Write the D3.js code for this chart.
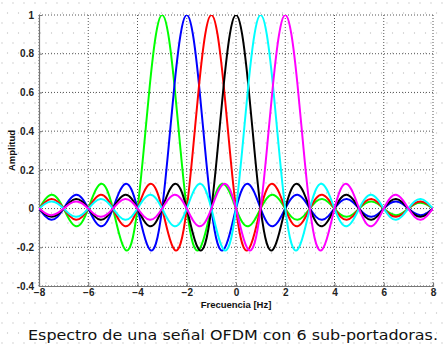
<!DOCTYPE html>
<html>
<head>
<meta charset="utf-8">
<script src="https://cdn.jsdelivr.net/npm/d3@7"></script>
<style>
  body { margin: 0; background: #fff; }
  svg { display: block; }
</style>
</head>
<body>
<svg id="chart"></svg>
<script>
// sub-carrier centres (Hz) and colours, drawn in this order
const centers = [-3, -2, -1, 0, 1, 2];
const colors = ['#00ff00', '#0000ff', '#ff0000', '#000000', '#00ffff', '#ff00ff'];

// pulse shape: amplitude at offsets 0, 0.25, 0.5 ... 11 Hz (symmetric)
const pulseStep = 0.25;
const pulseHalf = [
  1.000, 0.900, 0.637, 0.300, 0.000, -0.180, -0.212, -0.129,
  0.000, 0.100, 0.127, 0.082, 0.000, -0.069, -0.091, -0.060,
  0.000, 0.053, 0.071, 0.047, 0.000, -0.043, -0.058, -0.039,
  0.000, 0.036, 0.049, 0.033, 0.000, -0.031, -0.042, -0.029,
  0.000, 0.027, 0.037, 0.025, 0.000, -0.024, -0.034, -0.023,
  0.000, 0.022, 0.030, 0.020, 0.000
];

const xTicks = [-8, -6, -4, -2, 0, 2, 4, 6, 8];
const yTicks = [-0.4, -0.2, 0, 0.2, 0.4, 0.6, 0.8, 1];
const yTickLabels = ['-0.4', '-0.2', '0', '0.2', '0.4', '0.6', '0.8', '1'];

const W = 443, H = 349;
const margin = { top: 15, right: 10, bottom: 63, left: 39 };
const width = W - margin.left - margin.right;
const height = H - margin.top - margin.bottom;

const svg = d3.select('#chart').attr('width', W).attr('height', H);

// dotted paper background
const defs = svg.append('defs');
const pat = defs.append('pattern')
  .attr('id', 'paper')
  .attr('patternUnits', 'userSpaceOnUse')
  .attr('width', 11).attr('height', 20);
pat.append('circle').attr('cx', 2).attr('cy', 3).attr('r', 0.7).attr('fill', '#c4c4c4');
pat.append('circle').attr('cx', 7.5).attr('cy', 13).attr('r', 0.7).attr('fill', '#c4c4c4');
svg.append('rect').attr('width', W).attr('height', H).attr('fill', 'url(#paper)');

defs.append('clipPath').attr('id', 'plotclip')
  .append('rect').attr('width', width).attr('height', height);

const g = svg.append('g').attr('transform', `translate(${margin.left},${margin.top})`);

const x = d3.scaleLinear().domain([-8, 8]).range([0, width]);
const y = d3.scaleLinear().domain([-0.4, 1]).range([height, 0]);

// grid
g.append('g')
  .selectAll('line')
  .data(xTicks)
  .enter()
  .append('line')
  .attr('x1', d => x(d)).attr('x2', d => x(d))
  .attr('y1', 0).attr('y2', height)
  .attr('stroke', '#555')
  .attr('stroke-width', 1)
  .attr('stroke-dasharray', '1,2');

g.append('g')
  .selectAll('line')
  .data(yTicks)
  .enter()
  .append('line')
  .attr('x1', 0).attr('x2', width)
  .attr('y1', d => y(d)).attr('y2', d => y(d))
  .attr('stroke', '#555')
  .attr('stroke-width', 1)
  .attr('stroke-dasharray', '1,2');

// axes
const xAxis = g.append('g')
  .attr('transform', `translate(0,${height})`)
  .call(d3.axisBottom(x).tickValues(xTicks).tickSize(-3).tickPadding(3).tickFormat(d3.format('d')));
const yAxis = g.append('g')
  .call(d3.axisLeft(y).tickValues(yTicks).tickSize(-3).tickPadding(5)
    .tickFormat((d, i) => yTickLabels[i]));

[xAxis, yAxis].forEach(a => {
  a.select('.domain').attr('stroke', '#777').attr('stroke-width', 1.2);
  a.selectAll('.tick line').attr('stroke', '#777');
  a.selectAll('text')
    .style('font-family', '"Liberation Sans", Arial, sans-serif')
    .style('font-size', '10px')
    .style('font-weight', 'bold')
    .attr('fill', '#222');
});

// curves
const pulse = pulseHalf.slice(1).reverse().map((v, i) => ({ off: -(pulseHalf.length - 1 - i) * pulseStep, v }))
  .concat(pulseHalf.map((v, i) => ({ off: i * pulseStep, v })));

const line = d3.line()
  .x(d => x(d.f))
  .y(d => y(d.a))
  .curve(d3.curveNatural);

const curves = g.append('g').attr('clip-path', 'url(#plotclip)');
centers.forEach((c, k) => {
  const pts = pulse
    .map(p => ({ f: c + p.off, a: p.v }))
    .filter(p => p.f >= -8.3 && p.f <= 8.3);
  curves.append('path')
    .datum(pts)
    .attr('fill', 'none')
    .attr('stroke', colors[k])
    .attr('stroke-width', 2)
    .attr('d', line);
});

// axis titles
g.append('text')
  .attr('x', width / 2)
  .attr('y', height + 22)
  .attr('text-anchor', 'middle')
  .style('font-family', '"Liberation Sans", Arial, sans-serif')
  .style('font-size', '9.5px')
  .style('font-weight', 'bold')
  .attr('fill', '#111')
  .text('Frecuencia [Hz]');

g.append('text')
  .attr('transform', `translate(-24,${height / 2}) rotate(-90)`)
  .attr('text-anchor', 'middle')
  .style('font-family', '"Liberation Sans", Arial, sans-serif')
  .style('font-size', '9.5px')
  .style('font-weight', 'bold')
  .attr('fill', '#111')
  .text('Amplitud');

// caption
svg.append('text')
  .attr('x', 233)
  .attr('y', 340)
  .attr('text-anchor', 'middle')
  .attr('textLength', 410)
  .attr('lengthAdjust', 'spacingAndGlyphs')
  .style('font-family', '"DejaVu Sans", sans-serif')
  .style('font-size', '14.5px')
  .attr('fill', '#111')
  .text('Espectro de una señal OFDM con 6 sub-portadoras.');
</script>
</body>
</html>
